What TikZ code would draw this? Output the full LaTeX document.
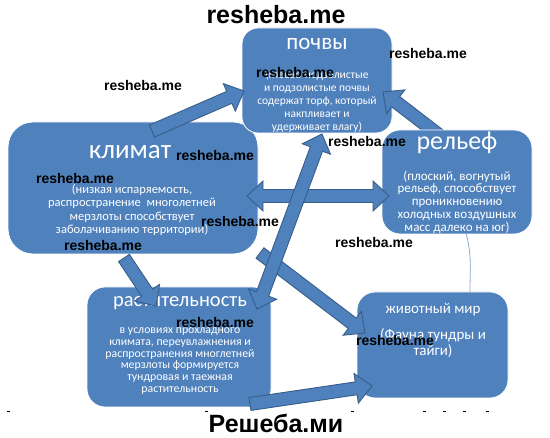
\documentclass[tikz,border=0pt]{standalone}
\usepackage{fontspec}
\setmainfont{Carlito}
\newfontfamily\wmfont{Liberation Sans}
\usetikzlibrary{calc}
\definecolor{boxblue}{HTML}{4F81BD}
\definecolor{edgeblue}{HTML}{385D8A}
\definecolor{thinblue}{HTML}{8EA8C9}
\newcommand\arrSW{6.5pt}
\newcommand\arrHW{15pt}
\newcommand\arrHL{16pt}
\newcommand\blkarrow[2]{%
  \coordinate (#1n) at ($(#2)!\arrHL!(#1)$);
  \draw[arr] ($(#1)!\arrSW!90:(#2)$) -- ($(#1n)!\arrSW!90:(#2)$) -- ($(#1n)!\arrHW!90:(#2)$) -- (#2) -- ($(#1n)!\arrHW!-90:(#2)$) -- ($(#1n)!\arrSW!-90:(#2)$) -- ($(#1)!\arrSW!-90:(#2)$) -- cycle;}
\newcommand\dblarrow[2]{%
  \coordinate (#1m) at ($(#1)!\arrHL!(#2)$);
  \coordinate (#2m) at ($(#2)!\arrHL!(#1)$);
  \draw[arr] (#1) -- ($(#1m)!\arrHW!90:(#2)$) -- ($(#1m)!\arrSW!90:(#2)$) -- ($(#2m)!\arrSW!90:(#2)$) -- ($(#2m)!\arrHW!90:(#2)$) -- (#2) -- ($(#2m)!\arrHW!-90:(#2)$) -- ($(#2m)!\arrSW!-90:(#2)$) -- ($(#1m)!\arrSW!-90:(#2)$) -- ($(#1m)!\arrHW!-90:(#2)$) -- cycle;}
\tikzset{
  box/.style={fill=boxblue, draw=white, line width=0.8pt, inner sep=0pt},
  arr/.style={fill=boxblue, draw=edgeblue, line width=0.9pt, line join=miter},
  ttl/.style={text=white, inner sep=0pt},
  desc/.style={text=white, align=center, inner sep=0pt},
  wm/.style={text=black, inner sep=0pt, font=\wmfont\bfseries\fontsize{14}{14}\selectfont},
  bigwm/.style={text=black, inner sep=0pt, font=\wmfont\bfseries\fontsize{25}{25}\selectfont},
}
\begin{document}
\begin{tikzpicture}[x=1pt, y=-1pt]
\fill[white] (0,0) rectangle (550,438);
\useasboundingbox (0,0) rectangle (550,438);

% boxes
\node[box, rounded corners=25pt, minimum width=250pt, minimum height=132pt] (clim) at (133,188) {};
\node[box, rounded corners=16pt, minimum width=150pt, minimum height=105pt] (soil) at (317,80.5) {};
\node[ttl, font=\fontsize{23}{23}\selectfont] (soilT) at (317,44) {почвы};
\node[desc, font=\fontsize{11.5}{13}\selectfont] (soilD) at (317,101) {(глеево-подзолистые\\и подзолистые почвы\\содержат торф, который\\накпливает и\\удерживает влагу)};

% relief -> soil (tail under relief box)
\coordinate (a2s) at (448,142);
\coordinate (a2e) at (383,92);
\blkarrow{a2s}{a2e}

\node[box, rounded corners=18pt, minimum width=150pt, minimum height=104pt] (rel) at (457,182) {};
\node[box, rounded corners=18pt, minimum width=184pt, minimum height=120pt] (veg) at (179,347) {};
\node[box, rounded corners=18pt, minimum width=151pt, minimum height=106pt] (fau) at (432.5,345) {};

% texts
\node[ttl, font=\fontsize{27}{27}\selectfont] (climT) at (130,152) {климат};
\node[desc, font=\fontsize{12.5}{13.5}\selectfont] (climD) at (132,210) {(низкая испаряемость,\\распространение~~многолетней\\мерзлоты способствует\\заболачиванию территории)};
\node[ttl, font=\fontsize{26}{26}\selectfont] (relT) at (457,143) {рельеф};
\node[desc, font=\fontsize{13}{12.8}\selectfont] (relD) at (457,202) {(плоский, вогнутый\\рельеф, способствует\\проникновению\\холодных воздушных\\масс далеко на юг)};
\node[ttl, font=\fontsize{20.5}{20.5}\selectfont] (vegT) at (180,303) {растительность};
\node[desc, font=\fontsize{11.8}{11.8}\selectfont] (vegD) at (180,361) {в условиях прохладного\\климата, переувлажнения и\\распространения многлетней\\мерзлоты формируется\\тундровая и таежная\\растительность};
\node[ttl, font=\fontsize{15}{15}\selectfont] (fauT) at (433,310) {животный мир};
\node[desc, font=\fontsize{15}{16.5}\selectfont] (fauD) at (433,343) {(Фауна тундры и\\тайги)};

% thin connector relief - fauna
\coordinate (t1) at (466,233);
\coordinate (t2) at (470,292);
\draw[thinblue, line width=0.8pt] (t1) to[out=-75, in=90] (t2);

% block arrows
\coordinate (a1s) at (152,131);
\coordinate (a1e) at (244,91);
\blkarrow{a1s}{a1e}

\coordinate (dhs) at (247,196);
\coordinate (dhe) at (389,196);
\dblarrow{dhs}{dhe}

\coordinate (a5s) at (124,258);
\coordinate (a5e) at (156,306);
\blkarrow{a5s}{a5e}

\coordinate (a6s) at (260,253);
\coordinate (a6e) at (365,333);
\blkarrow{a6s}{a6e}

\coordinate (dds) at (257,309);
\coordinate (dde) at (322,134);
\dblarrow{dds}{dde}

\coordinate (a7s) at (250,404);
\coordinate (a7e) at (372,386);
\blkarrow{a7s}{a7e}

% stray marks
\foreach \mx in {8,206,352,424,444,464,487}
  \draw[black, line width=0.7pt] (\mx-1.5,411) -- (\mx+1.5,411);

% watermarks
\node[bigwm] (w0) at (276,15) {resheba.me};
\node[wm] (w1) at (143,85) {resheba.me};
\node[wm] (w2) at (295,73) {resheba.me};
\node[wm] (w3) at (428,54) {resheba.me};
\node[wm] (w4) at (215,155) {resheba.me};
\node[wm] (w5) at (75,178) {resheba.me};
\node[wm] (w6) at (367,141) {resheba.me};
\node[wm] (w7) at (240,221) {resheba.me};
\node[wm] (w8) at (103,245) {resheba.me};
\node[wm] (w9) at (374,242) {resheba.me};
\node[wm] (w10) at (215,322) {resheba.me};
\node[wm] (w11) at (395,340) {resheba.me};
\node[bigwm] (w12) at (276,423) {Решеба.ми};
\end{tikzpicture}
\end{document}
